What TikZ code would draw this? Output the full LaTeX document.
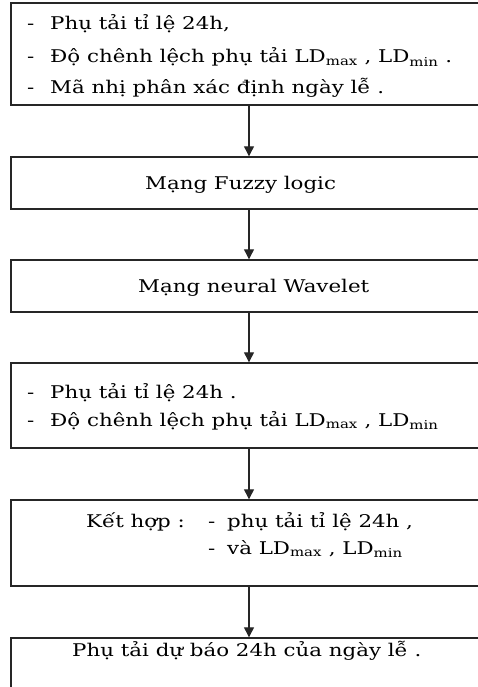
\documentclass[tikz,border=0pt]{standalone}
\usepackage{fontspec}
\setmainfont[FakeStretch=1.22]{DejaVu Serif}
\usetikzlibrary{arrows.meta}
\begin{document}
\begin{tikzpicture}[x=1pt,y=-1pt] % sơ đồ khối
\tikzstyle{khoi} = [draw=black!85, line width=1.4pt, minimum width=476pt, inner sep=0pt] % khung chữ nhật
\tikzstyle{muiten} = [draw=black!85, line width=1.2pt, -{Triangle[width=10pt,length=10pt]}] % mũi tên giữa các khối
\tikzstyle{chu} = [anchor=base west, inner sep=0pt, font=\fontsize{17.5}{19}\selectfont] % dòng chữ

\useasboundingbox (0,0) rectangle (478,687);
\clip (0,0) rectangle (478,687);

\node[khoi, minimum height=102pt] (dauvao) at (249,54) {};
\node[khoi, minimum height=52pt] (fuzzy) at (249,183) {};
\node[khoi, minimum height=52pt] (wavelet) at (249,286) {};
\node[khoi, minimum height=85pt] (daura) at (249,405.5) {};
\node[khoi, minimum height=86pt] (kethop) at (249,543) {};
\node[khoi, minimum height=82pt] (dubao) at (249,679) {};

% chữ trong các khối
\node[chu] (g1) at (27,30) {-};
\node[chu] (t1) at (50,30) {Phụ tải tỉ lệ 24h,};
\node[chu] (g2) at (27,63) {-};
\node[chu] (t2) at (50,63) {Độ chênh lệch phụ tải LD\textsubscript{max} , LD\textsubscript{min} .};
\node[chu] (g3) at (27,94) {-};
\node[chu] (t3) at (50,94) {Mã nhị phân xác định ngày lễ .};
\node[chu] (t4) at (145,189) {Mạng Fuzzy logic};
\node[chu] (t5) at (138,292) {Mạng neural Wavelet};
\node[chu] (g6) at (27,398) {-};
\node[chu] (t6) at (50,398) {Phụ tải tỉ lệ 24h .};
\node[chu] (g7) at (27,426) {-};
\node[chu] (t7) at (50,426) {Độ chênh lệch phụ tải LD\textsubscript{max} , LD\textsubscript{min}};
\node[chu] (t8) at (86,527) {Kết hợp :};
\node[chu] (g9) at (208,527) {-};
\node[chu] (t9) at (227,527) {phụ tải tỉ lệ 24h ,};
\node[chu] (g10) at (208,554) {-};
\node[chu] (t10) at (227,554) {và LD\textsubscript{max} , LD\textsubscript{min}};
\node[chu] (t11) at (72,656) {Phụ tải dự báo 24h của ngày lễ .};

\draw[muiten] (dauvao) -- (fuzzy);
\draw[muiten] (fuzzy) -- (wavelet);
\draw[muiten] (wavelet) -- (daura);
\draw[muiten] (daura) -- (kethop);
\draw[muiten] (kethop) -- (dubao);
\end{tikzpicture}
\end{document}
